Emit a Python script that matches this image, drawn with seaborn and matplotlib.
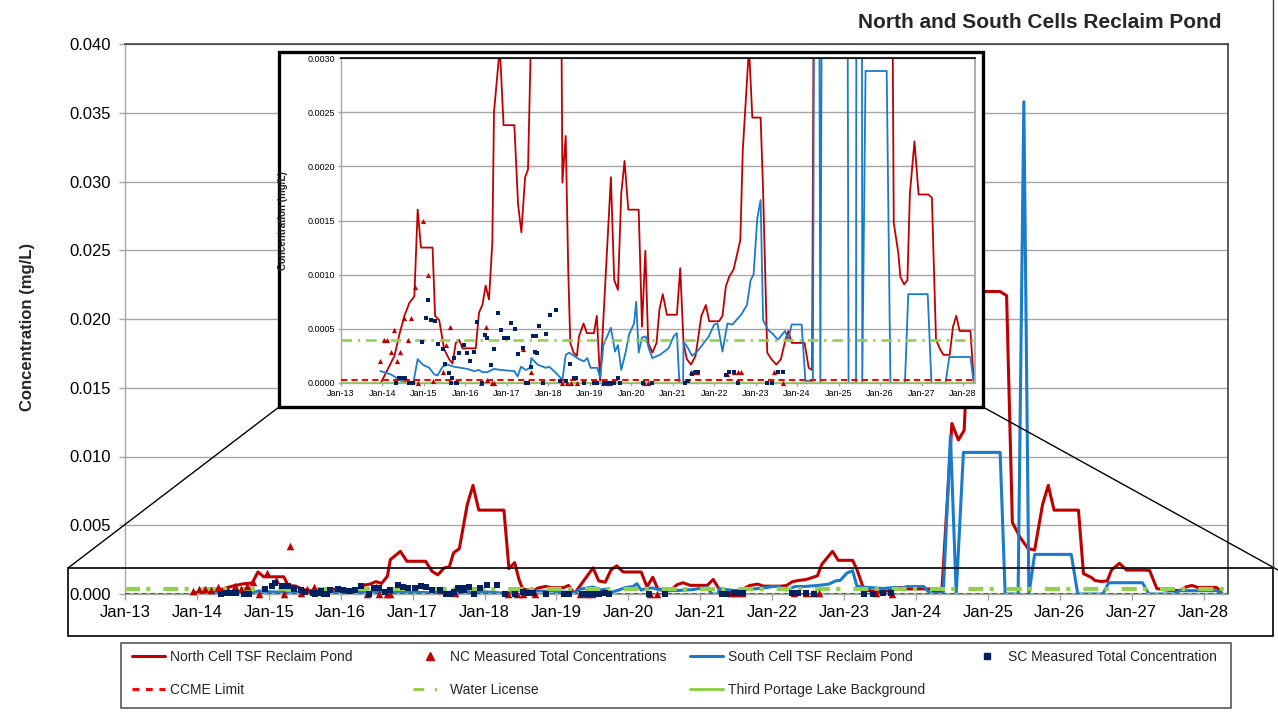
import numpy as np
import pandas as pd
import matplotlib
matplotlib.use("Agg")
import matplotlib.pyplot as plt
import matplotlib.dates as mdates
import seaborn as sns
from matplotlib.ticker import FormatStrFormatter
from matplotlib.patches import Rectangle
from matplotlib.lines import Line2D

sns.set_theme(style="white")
plt.rcParams["font.family"] = ["Liberation Sans", "DejaVu Sans"]

# ---------------- data (decimal years, mg/L) ----------------
north_t = [2013.96, 2014.29, 2014.41, 2014.53, 2014.65, 2014.77, 2014.85, 2014.93, 2015.21, 2015.27,
           2015.37, 2015.49, 2015.61, 2015.69, 2015.77, 2015.85, 2015.93, 2016.25, 2016.33, 2016.41,
           2016.49, 2016.57, 2016.65, 2016.69, 2016.83, 2016.92, 2017.18, 2017.27, 2017.35, 2017.44,
           2017.51, 2017.57, 2017.65, 2017.76, 2017.84, 2017.92, 2018.27, 2018.34, 2018.42, 2018.48,
           2018.53, 2018.61, 2018.69, 2018.74, 2018.85, 2018.93, 2019.10, 2019.17, 2019.25, 2019.35,
           2019.51, 2019.59, 2019.68, 2019.76, 2019.84, 2019.93, 2020.18, 2020.26, 2020.34, 2020.41,
           2020.51, 2020.61, 2020.68, 2020.76, 2020.86, 2021.10, 2021.18, 2021.26, 2021.34, 2021.44,
           2021.55, 2021.69, 2021.80, 2021.88, 2022.12, 2022.20, 2022.28, 2022.36, 2022.47, 2022.56,
           2022.63, 2022.69, 2022.76, 2022.84, 2022.92, 2023.12, 2023.18, 2023.28, 2023.38, 2023.50,
           2023.61, 2023.72, 2023.79, 2023.87, 2024.18, 2024.28, 2024.36, 2024.50, 2024.59, 2024.67,
           2024.76, 2025.17, 2025.26, 2025.34, 2025.45, 2025.56, 2025.65, 2025.76, 2025.84, 2025.92,
           2026.26, 2026.33, 2026.44, 2026.49, 2026.58, 2026.66, 2026.72, 2026.83, 2026.93, 2027.17,
           2027.25, 2027.35, 2027.45, 2027.53, 2027.68, 2027.76, 2027.84, 2027.92, 2028.18, 2028.26]
north_v = [0.0, 0.00025, 0.00045, 0.00062, 0.00074, 0.0008, 0.0016, 0.00125, 0.00125, 0.00062,
           0.00058, 0.00031, 0.00022, 0.00018, 0.00037, 0.0004, 0.00032, 0.00032, 0.00065, 0.00072,
           0.0009, 0.00077, 0.0013, 0.0025, 0.0031, 0.00238, 0.00238, 0.00165, 0.00139, 0.0019,
           0.00197, 0.003, 0.0033, 0.0065, 0.0079, 0.0061, 0.0061, 0.00185, 0.00228, 0.00105,
           0.00037, 0.00028, 0.00025, 0.00043, 0.00055, 0.00046, 0.00046, 0.00062, 0.00002, 0.00074,
           0.0019, 0.00095, 0.00086, 0.00175, 0.00205, 0.0016, 0.0016, 0.00052, 0.00122, 0.00037,
           0.00028, 0.00037, 0.00068, 0.00082, 0.00063, 0.00063, 0.00106, 0.00037, 0.00022, 0.00017,
           0.00025, 0.00062, 0.00072, 0.00057, 0.00057, 0.00062, 0.00089, 0.00098, 0.00105, 0.0012,
           0.00132, 0.00215, 0.0026, 0.0031, 0.00245, 0.00245, 0.00178, 0.00028, 0.00022, 0.00017,
           0.00022, 0.0004, 0.00048, 0.00037, 0.00037, 0.00014, 0.00012, 0.0124, 0.0112, 0.0119,
           0.0220, 0.0220, 0.0217, 0.0052, 0.0041, 0.0033, 0.0032, 0.0065, 0.0079, 0.0061,
           0.0061, 0.00148, 0.0012, 0.00098, 0.00091, 0.00095, 0.00175, 0.00223, 0.00174, 0.00174,
           0.00171, 0.0004, 0.00031, 0.00026, 0.00026, 0.00052, 0.00062, 0.00048, 0.00048, 0.00003]

south_t = [2013.95, 2014.20, 2014.33, 2014.45, 2014.65, 2014.75, 2014.85, 2014.97, 2015.13, 2015.25,
           2015.33, 2015.45, 2015.57, 2015.73, 2015.89, 2016.05, 2016.21, 2016.33, 2016.41, 2016.53,
           2016.69, 2016.86, 2017.18, 2017.26, 2017.34, 2017.46, 2017.56, 2017.59, 2017.74, 2017.94,
           2018.02, 2018.14, 2018.34, 2018.42, 2018.50, 2018.62, 2018.74, 2018.86, 2018.94, 2019.02,
           2019.18, 2019.25, 2019.33, 2019.51, 2019.61, 2019.68, 2019.76, 2019.87, 2019.95, 2020.07,
           2020.12, 2020.18, 2020.26, 2020.35, 2020.43, 2020.51, 2020.69, 2020.90, 2021.02, 2021.10,
           2021.16, 2021.25, 2021.26, 2021.34, 2021.47, 2021.59, 2021.71, 2021.87, 2022.00, 2022.08,
           2022.20, 2022.32, 2022.44, 2022.65, 2022.79, 2022.88, 2022.95, 2023.04, 2023.12, 2023.18,
           2023.30, 2023.42, 2023.54, 2023.71, 2023.79, 2023.87, 2024.11, 2024.20, 2024.38, 2024.48,
           2024.56, 2024.66, 2025.17, 2025.24, 2025.42, 2025.50, 2025.57, 2025.65, 2026.16, 2026.25,
           2026.60, 2026.68, 2027.15, 2027.24, 2027.58, 2027.67, 2028.18, 2028.26]
south_v = [0.00011, 0.00008, 0.00005, 0.00002, 0.0, 0.00001, 0.00022, 0.00017, 0.00014, 0.00008,
           0.00007, 0.00015, 0.00017, 0.00015, 0.00014, 0.00013, 0.00011, 0.00012, 0.0001, 0.0001,
           0.00013, 0.00012, 0.00011, 0.00006, 0.00015, 0.00012, 0.00014, 0.00023, 0.00017, 0.00014,
           0.00015, 0.00011, 0.00003, 0.00026, 0.00028, 0.00025, 0.00022, 0.0002, 0.00023, 0.00014,
           0.00014, 0.00005, 0.00035, 0.00051, 0.00029, 0.00035, 0.00012, 0.00029, 0.00045, 0.00055,
           0.00075, 0.00028, 0.00042, 0.00043, 0.00031, 0.00023, 0.00026, 0.00032, 0.00043, 0.00046,
           0.0, 0.0, 0.00038, 0.00034, 0.00025, 0.00029, 0.00035, 0.00043, 0.00054, 0.00055,
           0.00029, 0.00055, 0.00054, 0.00063, 0.00072, 0.00095, 0.001, 0.00152, 0.00169, 0.00058,
           0.00049, 0.00045, 0.0004, 0.00048, 0.0004, 0.00054, 0.00054, 0.00002, 0.00002, 0.0115,
           0.0, 0.0103, 0.0103, 0.0, 0.0, 0.0358, 0.0, 0.00288, 0.00288, 0.0,
           0.0, 0.00082, 0.00082, 0.0, 0.0, 0.00024, 0.00024, 0.0]

nc_t = [2013.95, 2014.03, 2014.12, 2014.20, 2014.29, 2014.35, 2014.43, 2014.53, 2014.62, 2014.70,
        2014.78, 2014.86, 2014.98, 2015.10, 2015.21, 2015.29, 2015.45, 2015.53, 2015.63, 2016.37,
        2016.49, 2016.53, 2016.65, 2016.69, 2017.39, 2017.59, 2018.33, 2018.45, 2018.54, 2018.70,
        2019.33, 2019.42, 2019.50, 2020.30, 2020.40, 2021.43, 2021.50, 2021.58, 2022.30, 2022.47,
        2022.57, 2022.65, 2023.44, 2023.67]
nc_v = [0.0002, 0.0004, 0.0004, 0.00029, 0.00049, 0.0002, 0.00029, 0.0006, 0.0004, 0.0006,
        0.00089, 0.0, 0.0015, 0.001, 0.00002, 0.0035, 0.0001, 0.00035, 0.00052, 0.0,
        0.00052, 0.00003, 0.0, 0.0, 0.00031, 0.0001, 0.0, 0.0, 0.0, 0.0,
        0.0, 0.0, 0.0, 0.0, 0.0, 0.0001, 0.0001, 0.0001, 0.00008, 0.0001,
        0.0001, 0.0001, 0.0001, 0.0]

sc_t = [2014.33, 2014.41, 2014.49, 2014.54, 2014.65, 2014.73, 2014.95, 2015.05, 2015.09, 2015.18,
        2015.27, 2015.35, 2015.45, 2015.51, 2015.61, 2015.65, 2015.69, 2015.73, 2015.77, 2015.81,
        2015.85, 2015.96, 2016.03, 2016.12, 2016.20, 2016.28, 2016.39, 2016.47, 2016.53, 2016.61,
        2016.69, 2016.79, 2016.87, 2016.94, 2017.03, 2017.11, 2017.19, 2017.27, 2017.38, 2017.46,
        2017.52, 2017.58, 2017.63, 2017.67, 2017.70, 2017.72, 2017.78, 2017.86, 2017.94, 2018.04,
        2018.18, 2018.29, 2018.42, 2018.53, 2018.61, 2018.67, 2018.86, 2019.10, 2019.18, 2019.35,
        2019.43, 2019.51, 2019.59, 2019.68, 2019.73, 2020.29, 2020.51, 2021.30, 2021.37, 2021.47,
        2021.55, 2021.60, 2022.28, 2022.36, 2022.47, 2022.58, 2023.28, 2023.40, 2023.54, 2023.65]
sc_v = [0.0, 0.00005, 0.00005, 0.00005, 0.0, 0.0, 0.00038, 0.0006, 0.00077, 0.00058,
        0.00057, 0.00036, 0.00031, 0.00018, 0.00009, 0.0, 0.00005, 0.00023, 0.0, 0.0,
        0.00028, 0.00035, 0.00028, 0.0002, 0.00029, 0.00056, 0.0, 0.00044, 0.00042, 0.00017,
        0.00031, 0.00065, 0.00049, 0.00042, 0.00042, 0.00055, 0.0005, 0.00027, 0.00032, 0.0,
        0.0, 0.00015, 0.00043, 0.00029, 0.00043, 0.00028, 0.00053, 0.0, 0.00045, 0.00063,
        0.00067, 0.00002, 0.00002, 0.00018, 0.00005, 0.00005, 0.0, 0.0, 0.0, 0.0,
        0.0, 0.0, 0.0, 0.00005, 0.0, 0.0, 0.0, 0.0, 0.00002, 0.00008,
        0.0001, 0.0001, 0.00007, 0.0001, 0.0001, 0.0, 0.0, 0.0, 0.0001, 0.0001]

CCME_LIMIT = 0.000025
WATER_LICENSE = 0.0004
BACKGROUND = 0.000002

TITLE = "North and South Cells Reclaim Pond"
YLABEL = "Concentration (mg/L)"
LEGEND_LABELS = ["North Cell TSF Reclaim Pond", "NC Measured Total Concentrations",
                 "South Cell TSF Reclaim Pond", "SC Measured Total Concentration",
                 "CCME Limit", "Water License", "Third Portage Lake Background"]

# ---------------- styling ----------------
RED = "#C00000"
BLUE = "#1A7BCB"
NAVY = "#002060"
LIMIT_RED = "#FF0000"
GREEN = "#92D050"
GRID = "#A6A6A6"


def to_date(t):
    y = int(np.floor(t))
    start = pd.Timestamp(year=y, month=1, day=1)
    end = pd.Timestamp(year=y + 1, month=1, day=1)
    return start + (end - start) * (t - y)


north = pd.DataFrame({"date": [to_date(t) for t in north_t], "v": north_v})
south = pd.DataFrame({"date": [to_date(t) for t in south_t], "v": south_v})
nc = pd.DataFrame({"date": [to_date(t) for t in nc_t], "v": nc_v})
sc = pd.DataFrame({"date": [to_date(t) for t in sc_t], "v": sc_v})

W, H = 1278, 719
fig = plt.figure(figsize=(W / 100, H / 100), dpi=100)
fig.patch.set_facecolor("white")


def fx(x):
    return x / W


def fy(y):
    return 1 - y / H


def draw(ax, ymax, ystep, fmt, lw, wl_lw, wl_dash, ccme_lw, bg_lw, s_tri, s_sq, fs, tick_len, xpad, ypad, xmax):
    sns.lineplot(data=north, x="date", y="v", ax=ax, color=RED, lw=lw, sort=False,
                 estimator=None, legend=False, zorder=2)
    sns.lineplot(data=south, x="date", y="v", ax=ax, color=BLUE, lw=lw, sort=False,
                 estimator=None, legend=False, zorder=2)
    ax.axhline(BACKGROUND, color=GREEN, lw=bg_lw, zorder=2.5)
    ax.axhline(CCME_LIMIT, color=LIMIT_RED, lw=ccme_lw, linestyle=(0, (3, 2)), zorder=2.6)
    ax.axhline(WATER_LICENSE, color=GREEN, lw=wl_lw, linestyle=(0, wl_dash), zorder=2.7)
    ncd = nc[nc["v"] <= ymax]
    scd = sc[sc["v"] <= ymax]
    sns.scatterplot(data=ncd, x="date", y="v", ax=ax, marker="^", s=s_tri, color=RED,
                    linewidth=0, legend=False, zorder=4, clip_on=False)
    sns.scatterplot(data=scd, x="date", y="v", ax=ax, marker="s", s=s_sq, color=NAVY,
                    linewidth=0, legend=False, zorder=4, clip_on=False)
    ax.set_xlim(to_date(2013.0), xmax)
    ax.set_ylim(0, ymax)
    ax.set_yticks(np.arange(0, ymax + ystep / 2, ystep))
    ax.yaxis.set_major_formatter(FormatStrFormatter(fmt))
    ax.xaxis.set_major_locator(mdates.YearLocator())
    ax.xaxis.set_major_formatter(mdates.DateFormatter("%b-%y"))
    ax.grid(axis="y", color=GRID, lw=1, zorder=0)
    ax.grid(axis="x", visible=False)
    ax.set_axisbelow(True)
    ax.set_xlabel("")
    ax.tick_params(axis="both", which="major", labelsize=fs, colors="black",
                   length=tick_len, width=1, color=GRID, direction="out")
    ax.tick_params(axis="x", pad=xpad)
    ax.tick_params(axis="y", pad=ypad)
    ax.xaxis.set_ticks_position("bottom")
    ax.yaxis.set_ticks_position("left")
    for side in ["left", "bottom"]:
        ax.spines[side].set_color(GRID)
        ax.spines[side].set_linewidth(1)


# ---------------- main axes ----------------
ax = fig.add_axes([fx(125), fy(594), (1228 - 125) / W, (594 - 44) / H])
ax.set_zorder(0)
draw(ax, 0.040, 0.005, "%.3f", lw=2.2, wl_lw=3.0, wl_dash=(3.6, 1.5, 1.0, 3.1), ccme_lw=1.2,
     bg_lw=1.6, s_tri=30, s_sq=19, fs=12, tick_len=4, xpad=4, ypad=6, xmax=to_date(2028.34))
ax.spines["top"].set_color("#404040")
ax.spines["right"].set_color("#404040")
ax.spines["top"].set_linewidth(1.2)
ax.spines["right"].set_linewidth(1.2)
ax.set_ylabel(YLABEL, fontsize=12, fontweight="bold")
ax.yaxis.set_label_coords((35 - 125) / (1228 - 125), 0.485)

# ---------------- inset box, connectors, zoom rectangle ----------------
fig.add_artist(Rectangle((fx(279), fy(407)), (983 - 279) / W, (407 - 52) / H,
                         transform=fig.transFigure, facecolor="white", edgecolor="black",
                         lw=2.4, zorder=1))
fig.add_artist(Line2D([fx(279), fx(68)], [fy(407), fy(568)], transform=fig.transFigure,
                      color="black", lw=1.0, zorder=1))
fig.add_artist(Line2D([fx(983), fx(1278)], [fy(407), fy(570)], transform=fig.transFigure,
                      color="black", lw=1.0, zorder=1))
fig.add_artist(Rectangle((fx(68), fy(636)), (1273 - 68) / W, (636 - 568) / H,
                         transform=fig.transFigure, facecolor="none", edgecolor="black",
                         lw=1.2, zorder=1))
fig.add_artist(Line2D([fx(1273), fx(1273)], [fy(0), fy(568)], transform=fig.transFigure,
                      color="#404040", lw=1.0, zorder=1))

# ---------------- inset axes ----------------
ax2 = fig.add_axes([fx(341), fy(383), (975 - 341) / W, (383 - 58) / H])
ax2.set_zorder(2)
draw(ax2, 0.003, 0.0005, "%.4f", lw=1.3, wl_lw=1.9, wl_dash=(4.0, 2.2, 0.9, 2.2), ccme_lw=1.5,
     bg_lw=1.2, s_tri=14, s_sq=11, fs=6.5, tick_len=2.5, xpad=2, ypad=2, xmax=to_date(2028.29))
ax2.spines["top"].set_color("black")
ax2.spines["top"].set_linewidth(1.2)
ax2.spines["right"].set_color(GRID)
ax2.set_ylabel(YLABEL, fontsize=7, fontweight="bold")
ax2.yaxis.set_label_coords((288 - 341) / (975 - 341), 0.5)

# ---------------- title ----------------
fig.text(fx(1222), fy(22), TITLE, ha="right", va="center", fontsize=15, fontweight="bold")

# ---------------- legend ----------------
h_north = Line2D([], [], color=RED, lw=2.2)
h_nc = Line2D([], [], color=RED, marker="^", linestyle="none", markersize=5.5)
h_south = Line2D([], [], color=BLUE, lw=2.2)
h_sc = Line2D([], [], color=NAVY, marker="s", linestyle="none", markersize=4.5)
h_ccme = Line2D([], [], color=LIMIT_RED, lw=2.2, linestyle=(0, (2.2, 2.2)))
h_wl = Line2D([], [], color=GREEN, lw=2.2, linestyle=(0, (3.5, 3.5, 0.8, 3.5)))
h_bg = Line2D([], [], color=GREEN, lw=2.2)

cols = [([h_north, h_ccme], [LEGEND_LABELS[0], LEGEND_LABELS[4]], 132),
        ([h_nc, h_wl], [LEGEND_LABELS[1], LEGEND_LABELS[5]], 413),
        ([h_south, h_bg], [LEGEND_LABELS[2], LEGEND_LABELS[6]], 690),
        ([h_sc], [LEGEND_LABELS[3]], 970)]
for handles, labels, x0 in cols:
    fig.legend(handles, labels, loc="upper left", bbox_to_anchor=(fx(x0), fy(650)),
               bbox_transform=fig.transFigure, frameon=False, fontsize=10,
               handlelength=2.4, handletextpad=0.3, labelspacing=1.38,
               borderpad=0, borderaxespad=0)
fig.add_artist(Rectangle((fx(121), fy(708)), (1231 - 121) / W, (708 - 643) / H,
                         transform=fig.transFigure, facecolor="none", edgecolor="#595959",
                         lw=1.2, zorder=1))

fig.savefig("out.png", dpi=100, facecolor="white")
